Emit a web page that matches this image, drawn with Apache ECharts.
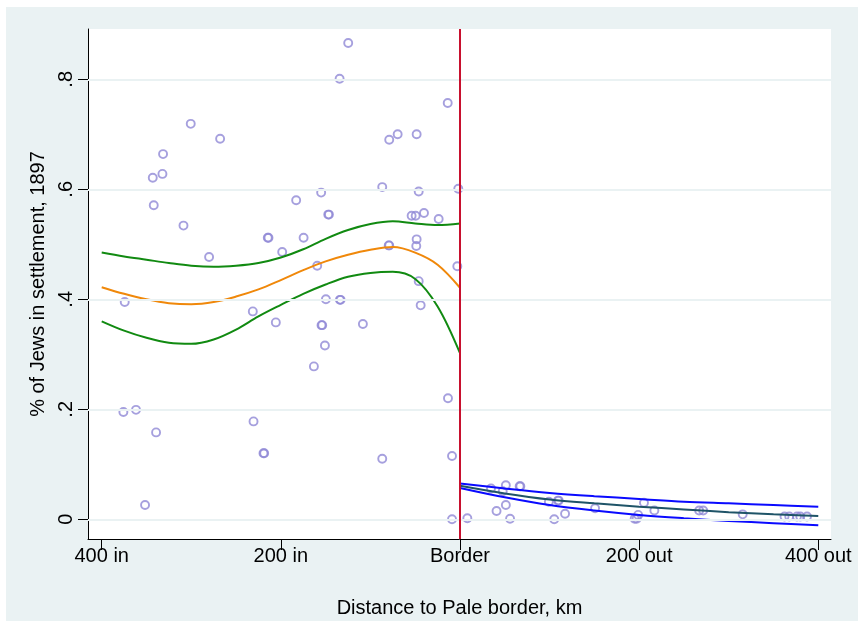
<!DOCTYPE html>
<html><head><meta charset="utf-8">
<script src="https://cdn.jsdelivr.net/npm/echarts@6/dist/echarts.min.js"></script>
<style>html,body{margin:0;padding:0;background:#fff}#c{width:858px;height:621px}</style>
</head><body><div id="c"></div>
<script>
// Settlements inside the Pale (negative distance = km inside)
const leftPoints = [[-300.6,0.719],[-267.8,0.692],[-331.5,0.664],[-343.0,0.621],[-332.2,0.628],[-341.9,0.571],[-308.7,0.534],[-214.6,0.512],[-213.8,0.512],[-280.1,0.477],[-198.5,0.486],[-124.8,0.866],[-134.4,0.801],[-13.7,0.757],[-79.0,0.690],[-69.6,0.700],[-48.4,0.700],[-86.8,0.604],[-46.1,0.596],[-1.9,0.601],[-182.9,0.580],[-155.0,0.594],[-147.1,0.554],[-146.3,0.554],[-54.0,0.552],[-49.5,0.552],[-40.2,0.557],[-23.8,0.546],[-174.6,0.512],[-48.4,0.509],[-48.8,0.497],[-79.6,0.498],[-79.0,0.498],[-159.4,0.461],[-3.0,0.460],[-46.1,0.433],[-374.3,0.395],[-231.3,0.378],[-205.6,0.358],[-375.8,0.195],[-361.7,0.199],[-339.3,0.158],[-230.5,0.178],[-219.4,0.120],[-218.6,0.120],[-351.6,0.026],[-149.7,0.400],[-134.1,0.399],[-133.3,0.399],[-43.9,0.389],[-154.6,0.353],[-153.8,0.353],[-108.4,0.355],[-150.8,0.316],[-163.1,0.278],[-13.4,0.220],[-86.8,0.110],[-8.9,0.115],[-8.9,0.000]];
// Settlements outside the Pale
const rightPoints = [[8.2,0.002],[34.6,0.056],[47.7,0.051],[51.2,0.062],[66.6,0.060],[67.4,0.060],[40.8,0.015],[51.2,0.026],[55.9,0.001],[99.2,0.032],[109.4,0.034],[110.2,0.034],[105.2,0.000],[117.3,0.010],[150.8,0.020],[205.4,0.030],[217.0,0.016],[195.0,0.001],[197.2,0.001],[198.9,0.008],[267.0,0.016],[271.5,0.016],[315.6,0.009],[362.3,0.005],[367.6,0.005],[376.2,0.005],[379.9,0.005],[387.4,0.005]];
// Fitted curves and confidence bands (read every 25 km)
const leftFit = [[-400,0.422],[-375,0.410],[-350,0.400],[-325,0.393],[-300,0.391],[-275,0.395],[-250,0.405],[-225,0.418],[-200,0.435],[-175,0.453],[-150,0.469],[-125,0.481],[-100,0.490],[-75,0.495],[-50,0.485],[-25,0.463],[0,0.421]];
const leftUpper = [[-400,0.485],[-375,0.478],[-350,0.472],[-325,0.466],[-300,0.461],[-275,0.459],[-250,0.461],[-225,0.466],[-200,0.476],[-175,0.491],[-150,0.510],[-125,0.526],[-100,0.537],[-75,0.542],[-50,0.538],[-25,0.535],[0,0.538]];
const leftLower = [[-400,0.360],[-375,0.343],[-350,0.330],[-325,0.321],[-300,0.319],[-275,0.327],[-250,0.345],[-225,0.369],[-200,0.390],[-175,0.410],[-150,0.427],[-125,0.441],[-100,0.448],[-75,0.450],[-50,0.437],[-25,0.387],[0,0.302]];
const rightFit = [[0,0.061],[50,0.047],[100,0.036],[150,0.029],[200,0.023],[250,0.018],[300,0.013],[350,0.009],[400,0.006]];
const rightUpper = [[0,0.065],[50,0.056],[100,0.048],[150,0.042],[200,0.037],[250,0.032],[300,0.029],[350,0.026],[400,0.023]];
const rightLower = [[0,0.057],[50,0.040],[100,0.026],[150,0.016],[200,0.008],[250,0.002],[300,-0.003],[350,-0.007],[400,-0.011]];
// Ticks
const xTickValues = [-400,-200,0,200,400];
const xTickLabels = ['400 in','200 in','Border','200 out','400 out'];
const yTickValues = [0,0.2,0.4,0.6,0.8];
const yTickLabels = ['0','.2','.4','.6','.8'];
const borderX = 0;

const FONT = "'Liberation Sans', Arial, sans-serif";
const chart = echarts.init(document.getElementById('c'), null, {renderer:'canvas'});
const lineS = (data, color, w) => ({type:'line', data, smooth:0.35, symbol:'none', silent:true,
  lineStyle:{color, width:w}, z:3});
chart.setOption({
  animation:false,
  backgroundColor:'#ffffff',
  graphic:[{type:'rect', shape:{x:6, y:7, width:860, height:620}, style:{fill:'#eaf2f3'}, z:-10, silent:true}],
  grid:{left:88, top:29, width:743, height:510, show:true, backgroundColor:'#ffffff', borderWidth:0, containLabel:false, outerBoundsMode:'none'},
  xAxis:{type:'value', min:-415.3, max:414.2,
    name:'Distance to Pale border, km', nameLocation:'middle', nameGap:59,
    nameTextStyle:{fontFamily:FONT, fontSize:20, color:'#000'},
    axisLine:{show:true, onZero:false, lineStyle:{color:'#000', width:1}},
    axisTick:{show:true, length:11, customValues:xTickValues, lineStyle:{color:'#000', width:1}},
    axisLabel:{customValues:xTickValues, margin:7, fontFamily:FONT, fontSize:20, color:'#000',
      formatter:v=>{const i=xTickValues.indexOf(v); return i>=0?xTickLabels[i]:'';}},
    splitLine:{show:false}},
  yAxis:{type:'value', min:-0.0358, max:0.8915,
    name:'% of Jews in settlement, 1897', nameLocation:'middle', nameGap:31, nameRotate:90,
    nameTextStyle:{fontFamily:FONT, fontSize:20, color:'#000'},
    axisLine:{show:true, onZero:false, lineStyle:{color:'#000', width:1}},
    axisTick:{show:true, length:10, customValues:yTickValues, lineStyle:{color:'#000', width:1}},
    axisLabel:{customValues:yTickValues, rotate:90, margin:12, fontFamily:FONT, fontSize:20, color:'#000',
      formatter:v=>{const i=yTickValues.findIndex(t=>Math.abs(t-v)<1e-9); return i>=0?yTickLabels[i]:'';}},
    splitLine:{show:false}},
  series:[
    {type:'line', data:[], z:1, silent:true,
      markLine:{silent:true, symbol:'none', label:{show:false}, animation:false,
        lineStyle:{color:'#eaf2f3', width:2, type:'solid'},
        data:yTickValues.map(v=>({yAxis:v}))}},
    {type:'scatter', data:leftPoints, symbol:'circle', symbolSize:8, silent:true, z:2,
      itemStyle:{color:'rgba(0,0,0,0)', borderColor:'#9088d6', borderWidth:1.9}},
    {type:'scatter', data:rightPoints, symbol:'circle', symbolSize:8, silent:true, z:2,
      itemStyle:{color:'rgba(0,0,0,0)', borderColor:'#9088d6', borderWidth:1.9}},
    lineS(leftUpper, '#118a11', 2),
    lineS(leftLower, '#118a11', 2),
    lineS(leftFit, '#f0880a', 2),
    lineS(rightUpper, '#0a0aff', 2),
    lineS(rightLower, '#0a0aff', 2),
    Object.assign(lineS(rightFit, '#1f5468', 2), {
      markLine:{silent:true, symbol:'none', label:{show:false}, animation:false,
        lineStyle:{color:'#c8102e', width:2, type:'solid'},
        data:[{xAxis:borderX}]}})
  ]
});
</script></body></html>
